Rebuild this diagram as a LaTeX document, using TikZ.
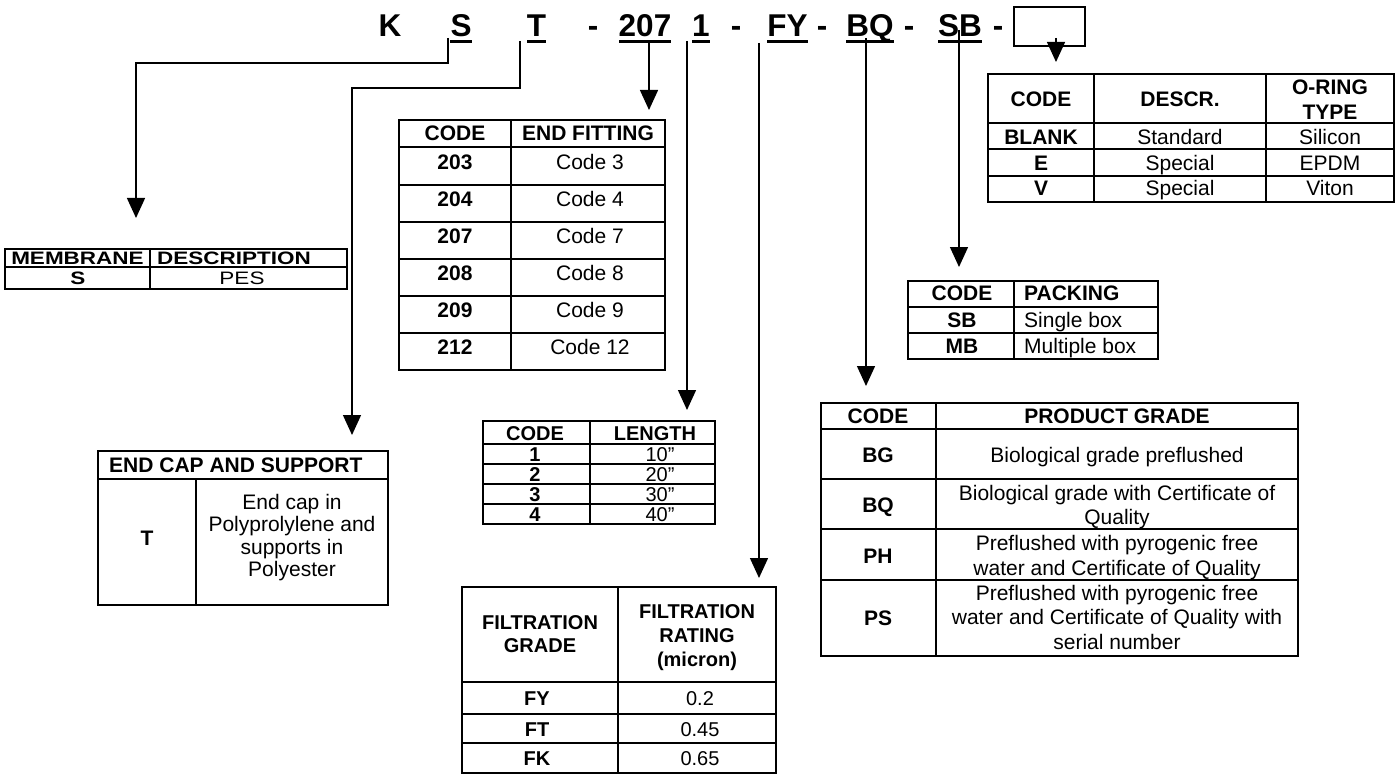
\documentclass[tikz,border=0pt]{standalone}
\usepackage{fontspec}
\setmainfont{Liberation Sans}
\usepackage{graphicx}
\usetikzlibrary{arrows.meta,calc}
\begin{document}
\begin{tikzpicture}[x=1pt,y=-1pt,
  conn/.style={line width=1.4pt,-{Triangle[width=18pt,length=20pt]}},
  grid/.style={line width=1.8pt},
  ttl/.style={font=\fontsize{31.5}{36}\selectfont\bfseries,anchor=base,inner sep=0pt},
  r/.style={font=\fontsize{21}{25}\selectfont,anchor=base,inner sep=0pt},
  b/.style={font=\fontsize{21}{25}\selectfont\bfseries,anchor=base,inner sep=0pt},
  rs/.style={font=\fontsize{20}{24}\selectfont,anchor=base,inner sep=0pt},
  bs/.style={font=\fontsize{20}{24}\selectfont\bfseries,anchor=base,inner sep=0pt},
  rm/.style={font=\fontsize{18}{22}\selectfont,anchor=base,inner sep=0pt},
  bm/.style={font=\fontsize{18}{22}\selectfont\bfseries,anchor=base,inner sep=0pt},
  lft/.style={anchor=base west}]
\useasboundingbox (0,0) rectangle (1400,778);

% ---------- title ----------
\node[ttl] (tK) at (390,37) {K};
\node[ttl] (tS) at (461,37) {S};
\node[ttl] (tT) at (536.5,37) {T};
\node[ttl] (d1) at (593,37) {-};
\node[ttl] (t207) at (645,37) {207};
\node[ttl] (t1) at (701,37) {1};
\node[ttl] (d2) at (736,37) {-};
\node[ttl] (tFY) at (787.5,37) {FY};
\node[ttl] (d3) at (822,37) {-};
\node[ttl] (tBQ) at (870,37) {BQ};
\node[ttl] (d4) at (909,37) {-};
\node[ttl] (tSB) at (960,37) {SB};
\node[ttl] (d5) at (998,37) {-};
\foreach \n in {tS,tT,t207,t1,tFY,tBQ,tSB}
  \fill ($(\n.base west)+(0,3)$) rectangle ($(\n.base east)+(0,6)$);
\node[draw,line width=1.8pt,minimum width=71pt,minimum height=39pt,inner sep=0pt,anchor=north west] (bx) at (1013,6) {};

% ---------- connectors ----------
\coordinate (sS) at (448,38);   \coordinate (aS) at (136,218);
\coordinate (sT) at (520,41);   \coordinate (aT) at (352,435);
\coordinate (s207) at (649,43); \coordinate (a207) at (649,110);
\coordinate (s1) at (687,41);   \coordinate (a1) at (687,410);
\coordinate (sFY) at (759,43);  \coordinate (aFY) at (759,578);
\coordinate (sBQ) at (866,38);  \coordinate (aBQ) at (866,386);
\coordinate (sSB) at (959,30);  \coordinate (aSB) at (959,267);
\coordinate (sBX) at (1056,38); \coordinate (aBX) at (1056,62);
\draw[conn] (sS) |- (136,63) -- (aS);
\draw[conn] (sT) |- (352,88) -- (aT);
\draw[conn] (s207) -- (a207);
\draw[conn] (s1) -- (a1);
\draw[conn] (sFY) -- (aFY);
\draw[conn] (sBQ) -- (aBQ);
\draw[conn] (sSB) -- (aSB);
\draw[conn] (sBX) -- (aBX);

% ---------- O-ring table ----------
\draw[grid] (988,74) rectangle (1394,202);
\draw[grid] (988,123) -- (1394,123) (988,149) -- (1394,149) (988,176) -- (1394,176)
            (1094,74) -- (1094,202) (1266,74) -- (1266,202);
\node[b] (o1) at (1041,106.5) {CODE};
\node[b] (o2) at (1180,106.5) {DESCR.};
\node[b] (o3) at (1330,94.5) {O-RING};
\node[b] (o4) at (1330,119.5) {TYPE};
\node[b] (o5) at (1041,144.5) {BLANK};
\node[r] (o6) at (1180,144.5) {Standard};
\node[r] (o7) at (1330,144.5) {Silicon};
\node[b] (o8) at (1041,170.5) {E};
\node[r] (o9) at (1180,170.5) {Special};
\node[r] (o10) at (1330,170.5) {EPDM};
\node[b] (o11) at (1041,196) {V};
\node[r] (o12) at (1180,196) {Special};
\node[r] (o13) at (1330,196) {Viton};

% ---------- End fitting table ----------
\draw[grid] (399,120) rectangle (665,370);
\draw[grid] (399,147) -- (665,147) (399,185) -- (665,185) (399,222) -- (665,222)
            (399,259) -- (665,259) (399,296) -- (665,296) (399,333) -- (665,333)
            (511,120) -- (511,370);
\node[b] (e1) at (455,140.5) {CODE};
\node[b] (e2) at (588,140.5) {END FITTING};
\node[b] (e3) at (455,169.5) {203}; \node[r] (e4) at (590,169.5) {Code 3};
\node[b] (e5) at (455,206.5) {204}; \node[r] (e6) at (590,206.5) {Code 4};
\node[b] (e7) at (455,243.5) {207}; \node[r] (e8) at (590,243.5) {Code 7};
\node[b] (e9) at (455,280.5) {208}; \node[r] (e10) at (590,280.5) {Code 8};
\node[b] (e11) at (455,317.5) {209}; \node[r] (e12) at (590,317.5) {Code 9};
\node[b] (e13) at (455,354.5) {212}; \node[r] (e14) at (590,354.5) {Code 12};

% ---------- Packing table ----------
\draw[grid] (908,281) rectangle (1158,359);
\draw[grid] (908,307) -- (1158,307) (908,333) -- (1158,333) (1014,281) -- (1014,359);
\node[b] (p1) at (962,300.5) {CODE};
\node[b,lft] (p2) at (1024,300.5) {PACKING};
\node[b] (p3) at (962,327.5) {SB};
\node[r,lft] (p4) at (1024,327.5) {Single box};
\node[b] (p5) at (962,353.5) {MB};
\node[r,lft] (p6) at (1024,353.5) {Multiple box};

% ---------- Membrane table ----------
\draw[grid] (5,249) rectangle (347,289);
\draw[grid] (5,267) -- (347,267) (150,249) -- (150,289);
\node[bm] (m1) at (77.5,264.5) {\scalebox{1.25}[1]{MEMBRANE}};
\node[bm,lft] (m2) at (157,264.5) {\scalebox{1.25}[1]{DESCRIPTION}};
\node[bm] (m3) at (78,284.5) {\scalebox{1.25}[1]{S}};
\node[rm] (m4) at (242,284.5) {\scalebox{1.25}[1]{PES}};

% ---------- End cap table ----------
\draw[grid] (98,451) rectangle (388,605);
\draw[grid] (98,479) -- (388,479) (196,479) -- (196,605);
\node[b,lft] (c1) at (109,472.5) {END CAP AND SUPPORT};
\node[b] (c2) at (147,545.5) {T};
\node[r] (c3) at (292,509) {End cap in};
\node[r] (c4) at (292,531.5) {Polyprolylene and};
\node[r] (c5) at (292,554) {supports in};
\node[r] (c6) at (292,576.5) {Polyester};

% ---------- Length table ----------
\draw[grid] (483,421) rectangle (715,524);
\draw[grid] (483,444) -- (715,444) (483,464) -- (715,464) (483,484) -- (715,484)
            (483,504) -- (715,504) (590,421) -- (590,524);
\node[bs] (l1) at (535,440) {CODE};
\node[bs] (l2) at (655,440) {LENGTH};
\node[bs] (l3) at (535,461) {1}; \node[rs] (l4) at (660,461) {10”};
\node[bs] (l5) at (535,481) {2}; \node[rs] (l6) at (660,481) {20”};
\node[bs] (l7) at (535,501) {3}; \node[rs] (l8) at (660,501) {30”};
\node[bs] (l9) at (535,521) {4}; \node[rs] (l10) at (660,521) {40”};

% ---------- Filtration table ----------
\draw[grid] (462,587) rectangle (776,773);
\draw[grid] (462,682) -- (776,682) (462,714) -- (776,714) (462,743) -- (776,743)
            (618,587) -- (618,773);
\node[bs] (f1) at (540,629) {FILTRATION};
\node[bs] (f2) at (540,652) {GRADE};
\node[bs] (f3) at (697,618) {FILTRATION};
\node[bs] (f4) at (697,642) {RATING};
\node[bs] (f5) at (697,666) {(micron)};
\node[bs] (f6) at (537,705.5) {FY}; \node[rs] (f7) at (700,705.5) {0.2};
\node[bs] (f8) at (537,736) {FT};   \node[rs] (f9) at (700,736) {0.45};
\node[bs] (f10) at (537,765.5) {FK}; \node[rs] (f11) at (700,765.5) {0.65};

% ---------- Product grade table ----------
\draw[grid] (821,403) rectangle (1298,656);
\draw[grid] (821,429) -- (1298,429) (821,479) -- (1298,479) (821,529) -- (1298,529)
            (821,580) -- (1298,580) (936,403) -- (936,656);
\node[b] (g1) at (878,423.5) {CODE};
\node[b] (g2) at (1117,423.5) {PRODUCT GRADE};
\node[b] (g3) at (878,462.5) {BG};
\node[r] (g4) at (1117,462.5) {Biological grade preflushed};
\node[b] (g5) at (878,512.5) {BQ};
\node[r] (g6) at (1117,500.5) {Biological grade with Certificate of};
\node[r] (g7) at (1117,524.5) {Quality};
\node[b] (g8) at (878,563.5) {PH};
\node[r] (g9) at (1117,550.5) {Preflushed with pyrogenic free};
\node[r] (g10) at (1117,575.5) {water and Certificate of Quality};
\node[b] (g11) at (878,625.5) {PS};
\node[r] (g12) at (1117,600.5) {Preflushed with pyrogenic free};
\node[r] (g13) at (1117,624.5) {water and Certificate of Quality with};
\node[r] (g14) at (1117,649.5) {serial number};
\end{tikzpicture}
\end{document}
